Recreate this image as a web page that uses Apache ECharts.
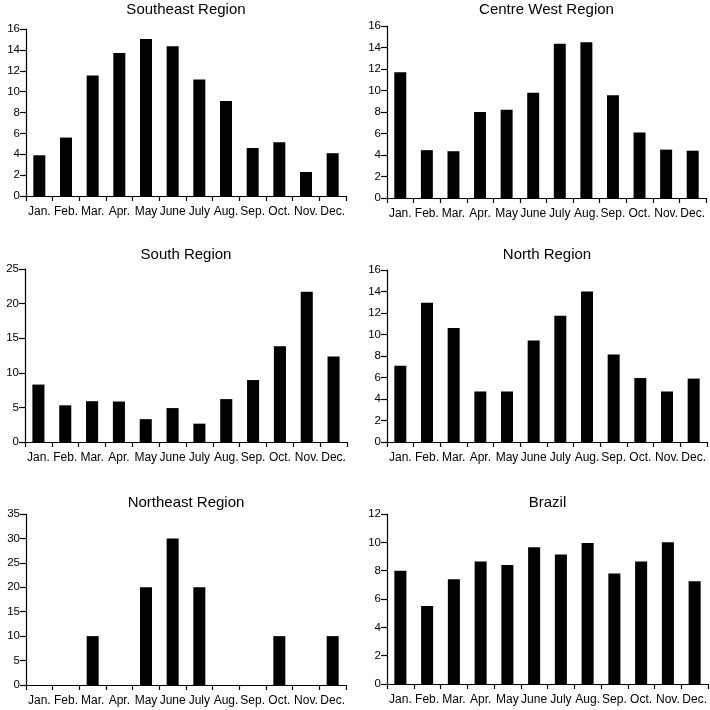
<!DOCTYPE html>
<html><head><meta charset="utf-8">
<script src="https://cdn.jsdelivr.net/npm/echarts@6/dist/echarts.min.js"></script>
<style>html,body{margin:0;padding:0;background:#fff}#c{width:710px;height:710px}</style>
</head><body><div id="c"></div>
<script>
const months = ["Jan.","Feb.","Mar.","Apr.","May","June","July","Aug.","Sep.","Oct.","Nov.","Dec."];
const titles = ["Southeast Region","Centre West Region","South Region","North Region","Northeast Region","Brazil"];
const southeast = [3.9,5.6,11.55,13.7,15.05,14.35,11.15,9.1,4.6,5.15,2.3,4.1];
const centreWest = [11.7,4.45,4.35,8.0,8.2,9.8,14.35,14.5,9.55,6.1,4.5,4.4];
const south = [8.3,5.3,5.9,5.85,3.3,4.9,2.65,6.2,8.95,13.85,21.7,12.35];
const north = [7.1,12.95,10.6,4.7,4.7,9.45,11.75,14.0,8.15,5.95,4.7,5.9];
const northeast = [0,0,10,0,20,30,20,0,0,10,0,10];
const brazil = [8.0,5.5,7.4,8.65,8.4,9.65,9.15,9.95,7.8,8.65,10.0,7.25];
const yMax = [16,16,25,16,35,12];
const yStep = [2,2,5,2,5,2];
const seriesData = [southeast,centreWest,south,north,northeast,brazil];

const grids = [
  {left:26, top:29, width:320, height:167},
  {left:387, top:26, width:319, height:172},
  {left:25, top:269, width:322, height:173},
  {left:387, top:270, width:320, height:172},
  {left:26, top:514, width:320, height:171},
  {left:387, top:514, width:321, height:170}
];
const titleTops = [2,2,247,247,495,495];
const font = "'Liberation Sans', Arial, Helvetica, sans-serif";

const option = {
  animation:false,
  backgroundColor:'#fff',
  textStyle:{fontFamily:font},
  title: titles.map((t,i)=>({
    text:t,
    left: grids[i].left + grids[i].width/2,
    top: titleTops[i],
    textAlign:'center',
    padding:0,
    textStyle:{fontFamily:font,fontSize:15,fontWeight:'normal',color:'#000'}
  })),
  grid: grids.map(g=>Object.assign({containLabel:false},g)),
  xAxis: grids.map((g,i)=>({
    type:'category', gridIndex:i, data:months,
    axisLine:{lineStyle:{color:'#000',width:1.2}},
    axisTick:{show:true,length:5,interval:0,lineStyle:{color:'#000',width:1.2}},
    axisLabel:{interval:0,margin:10,fontSize:12,color:'#000',fontFamily:font},
    splitLine:{show:false}
  })),
  yAxis: grids.map((g,i)=>({
    type:'value', gridIndex:i, min:0, max:yMax[i], interval:yStep[i],
    axisLine:{show:true,lineStyle:{color:'#000',width:1.2}},
    axisTick:{show:true,length:6,lineStyle:{color:'#000',width:1.2}},
    axisLabel:{margin:6,fontSize:11.5,color:'#000',fontFamily:font},
    splitLine:{show:false}
  })),
  series: seriesData.map((d,i)=>({
    type:'bar', xAxisIndex:i, yAxisIndex:i, data:d,
    barWidth:'45%', itemStyle:{color:'#000'}
  }))
};
echarts.init(document.getElementById('c'),null,{renderer:'canvas'}).setOption(option);
</script></body></html>
